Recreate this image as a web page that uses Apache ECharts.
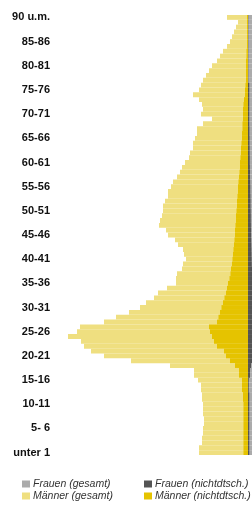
<!DOCTYPE html>
<html><head><meta charset="utf-8">
<script src="https://cdn.jsdelivr.net/npm/echarts@6/dist/echarts.min.js"></script>
<style>html,body{margin:0;padding:0;background:#fff}#c{width:252px;height:506px}</style>
</head><body><div id="c"></div>
<script>
// age categories, bottom (0) to top (90)
const ages = [0,1,2,3,4,5,6,7,8,9,10,11,12,13,14,15,16,17,18,19,20,21,22,23,24,25,26,27,28,29,30,31,32,33,34,35,36,37,38,39,40,41,42,43,44,45,46,47,48,49,50,51,52,53,54,55,56,57,58,59,60,61,62,63,64,65,66,67,68,69,70,71,72,73,74,75,76,77,78,79,80,81,82,83,84,85,86,87,88,89,90];
// tick labels shown every 5 years
const tickAges = [0,5,10,15,20,25,30,35,40,45,50,55,60,65,70,75,80,85,90];
const tickLabels = ['unter 1','5- 6','10-11','15-16','20-21','25-26','30-31','35-36','40-41','45-46','50-51','55-56','60-61','65-66','70-71','75-76','80-81','85-86','90 u.m.'];

// Männer (gesamt), age 0..90
const menTotal = [490,490,460,460,450,450,440,440,450,450,450,460,460,470,470,500,540,540,780,1170,1440,1570,1640,1670,1800,1710,1680,1440,1320,1190,1080,1020,940,900,810,720,720,710,660,650,620,640,650,700,730,800,820,890,880,860,850,850,830,800,800,770,750,710,680,660,630,590,580,550,550,530,510,510,450,360,470,450,460,490,550,490,470,450,420,390,360,310,280,250,210,180,160,140,120,100,210];
// Männer (nichtdtsch.), age 0..90
const menForeign = [45,45,45,45,45,45,45,45,45,45,45,50,50,60,60,60,90,90,130,180,220,240,310,340,360,380,390,310,295,280,265,250,235,220,210,200,185,175,170,160,155,150,145,140,135,130,130,125,120,120,115,110,110,105,100,100,95,90,85,80,80,75,70,70,65,60,60,55,55,50,50,50,45,40,30,30,25,20,20,20,20,20,15,15,10,10,10,10,10,10,10];
// Frauen (gesamt), age 0..90 (mostly outside the visible crop)
const womenTotal = [470,470,440,440,430,430,420,420,430,430,430,440,440,450,450,480,520,520,740,1100,1350,1480,1550,1580,1700,1620,1600,1380,1260,1140,1040,980,910,870,790,700,700,690,650,640,610,630,640,690,720,790,810,880,870,860,850,860,850,830,830,810,800,770,750,740,720,690,690,670,680,670,660,670,610,500,650,640,660,700,790,720,700,690,660,630,590,530,490,450,390,340,310,280,240,210,450];
// Frauen (nichtdtsch.), age 0..90
const womenForeign = [50,50,50,50,50,50,50,50,50,50,50,50,50,30,30,30,80,80,120,170,210,230,290,320,340,350,360,290,270,260,250,240,220,210,200,190,180,170,160,150,145,140,135,130,125,120,120,115,110,110,105,100,100,95,90,90,85,80,80,75,70,70,65,65,60,60,55,55,50,50,50,50,50,50,50,50,50,10,10,10,10,10,10,10,10,10,10,10,10,10,10];

const cLightYellow = '#efdf80';
const cDarkYellow = '#e5c300';
const cLightGrey = '#ababab';
const cDarkGrey = '#545454';

const chart = echarts.init(document.getElementById('c'));
const font = "'Liberation Sans',Arial,sans-serif";
const legendText = {fontSize: 10.5, fontStyle: 'italic', color: '#333', lineHeight: 12, padding: [0,0,0,-2], fontFamily: font};
chart.setOption({
  animation: false,
  backgroundColor: '#fff',
  grid: [
    {left: 54, top: 15, width: 194, height: 440},
    {left: 248, top: 15, width: 194, height: 440}
  ],
  xAxis: [
    {gridIndex: 0, type: 'value', inverse: true, min: 0, max: 1940, show: false},
    {gridIndex: 1, type: 'value', min: 0, max: 1940, show: false}
  ],
  yAxis: [
    {gridIndex: 0, type: 'category', data: ages,
     axisLine: {show: false}, axisTick: {show: false}, splitLine: {show: false},
     axisLabel: {
       interval: (i, v) => tickAges.indexOf(+v) >= 0,
       formatter: v => tickLabels[tickAges.indexOf(+v)],
       margin: 4, color: '#111', fontFamily: font, fontWeight: 'bold', fontSize: 11
     }},
    {gridIndex: 1, type: 'category', data: ages, show: false}
  ],
  legend: [
    {left: 22, top: 478, orient: 'vertical', padding: 0, itemGap: 0, itemWidth: 8, itemHeight: 7, icon: 'rect',
     data: ['Frauen (gesamt)', 'Männer (gesamt)'], textStyle: legendText},
    {left: 144, top: 478, orient: 'vertical', padding: 0, itemGap: 0, itemWidth: 8, itemHeight: 7, icon: 'rect',
     data: ['Frauen (nichtdtsch.)', 'Männer (nichtdtsch.)'], textStyle: legendText}
  ],
  series: [
    {name: 'Männer (gesamt)', type: 'bar', xAxisIndex: 0, yAxisIndex: 0, data: menTotal,
     barWidth: '100%', barGap: '-100%', itemStyle: {color: cLightYellow}},
    {name: 'Männer (nichtdtsch.)', type: 'bar', xAxisIndex: 0, yAxisIndex: 0, data: menForeign,
     barWidth: '100%', barGap: '-100%', itemStyle: {color: cDarkYellow}},
    {name: 'Frauen (gesamt)', type: 'bar', xAxisIndex: 1, yAxisIndex: 1, data: womenTotal,
     barWidth: '100%', barGap: '-100%', itemStyle: {color: cLightGrey}},
    {name: 'Frauen (nichtdtsch.)', type: 'bar', xAxisIndex: 1, yAxisIndex: 1, data: womenForeign,
     barWidth: '100%', barGap: '-100%', itemStyle: {color: cDarkGrey}}
  ]
});
</script>
</body></html>
